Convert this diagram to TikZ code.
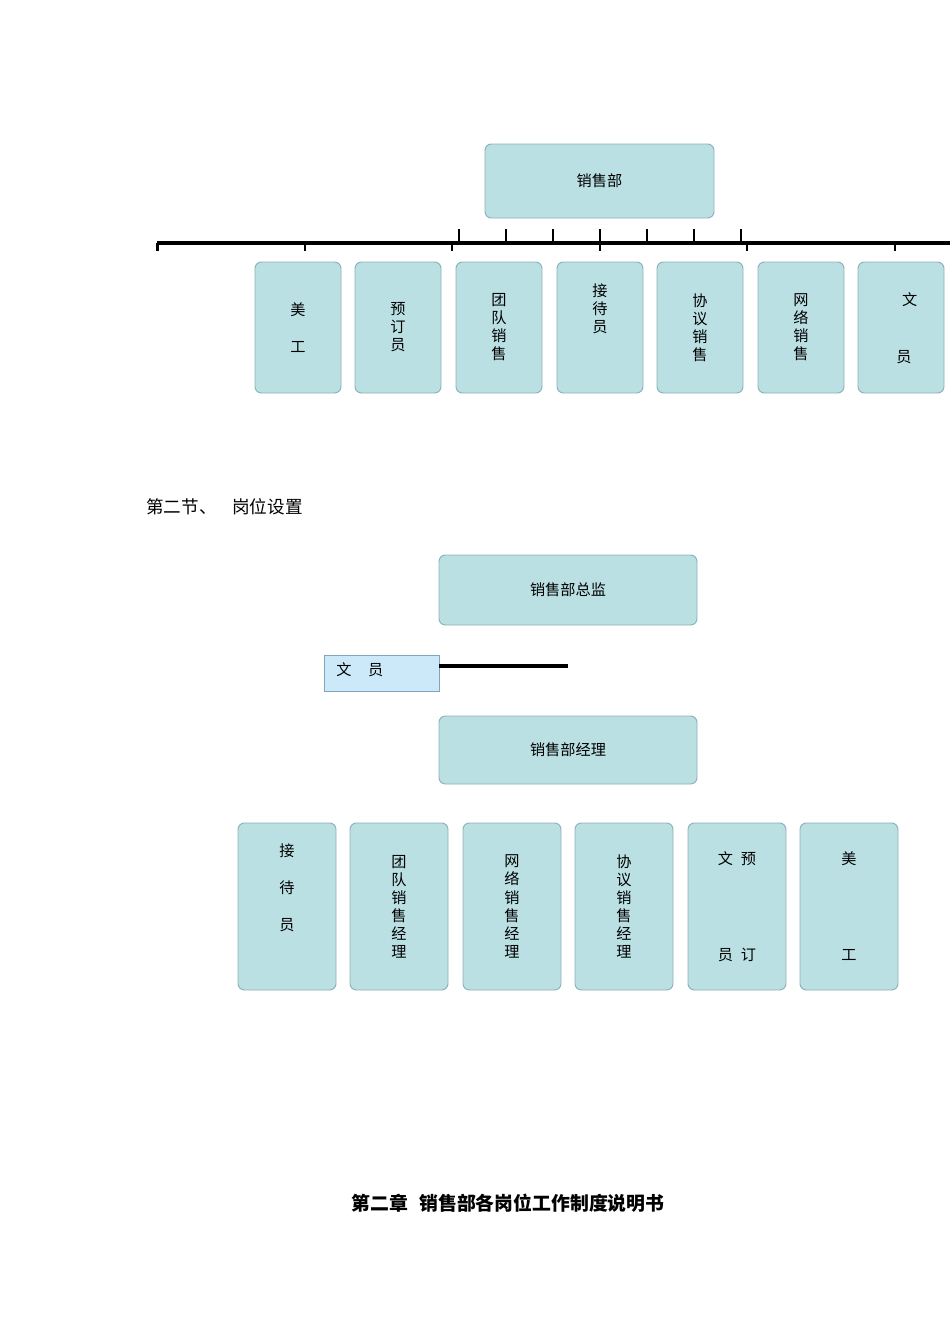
\documentclass[tikz,border=0pt]{standalone}
\usepackage{fontspec}
\setmainfont{Noto Sans CJK SC}
\usepackage{xcolor}
\usetikzlibrary{positioning}
\definecolor{postfill}{RGB}{187,224,227}
\definecolor{postline}{RGB}{140,178,184}
\definecolor{clerkfill}{RGB}{204,233,250}
\definecolor{clerkline}{RGB}{130,165,190}
\tikzset{
	x=0.626pt, y=-0.626pt,
	post/.style 2 args = {
			draw=postline, fill=postfill,
			rounded corners=4pt, line width=0.6pt,
			minimum width=#1*0.626pt, minimum height=#2*0.626pt,
			inner sep=0pt, align=center,
			font=\fontsize{9.5}{11.3}\selectfont,
		},
	clerk/.style = {
			draw=clerkline, fill=clerkfill, line width=0.6pt,
			minimum width=115*0.626pt, minimum height=36*0.626pt,
			inner sep=0pt,
		},
	word/.style = {inner sep=0pt, align=center, font=\fontsize{9.5}{11.3}\selectfont},
	bar/.style = {draw=black, line width=2.2pt},
	tick/.style = {draw=black, line width=1.7pt},
}
\begin{document}
\begin{tikzpicture}
	\useasboundingbox (0,0) rectangle (950,1344);

	% Sales department
	\node[post={229}{74}] (Dept) at (599.5,181) {销售部};

	\node[post={86}{131}] (Art) at (298,327.5) {美\\[12pt]工};
	\node[post={86}{131}] (Booking) at (398,327.5) {预\\订\\员};
	\node[post={86}{131}] (Team) at (499,327.5) {团\\队\\销\\售};
	\node[post={86}{131}] (Reception) at (600,327.5) {};
	\node[word] (Reception text) at (600,309) {接\\待\\员};
	\node[post={86}{131}] (Contract) at (700,327.5) {协\\议\\销\\售};
	\node[post={86}{131}] (Online) at (801,327.5) {网\\络\\销\\售};
	\node[post={86}{131}] (Clerk top) at (901,327.5) {};
	\node[word] (Clerk top text) at (904,328) {\hspace{7pt}文\\[24.4pt]员};

	\coordinate (BarL) at (157,243);
	\coordinate (BarR) at (950,243);
	\draw[bar] (BarL) -- (BarR);

	\coordinate (Up1) at (459,229);
	\coordinate (Up2) at (506,229);
	\coordinate (Up3) at (553,229);
	\coordinate (Up4) at (600,229);
	\coordinate (Up5) at (647,229);
	\coordinate (Up6) at (694,229);
	\coordinate (Up7) at (741,229);
	\draw[tick] (Up1) -- (Up1 |- BarL);
	\draw[tick] (Up2) -- (Up2 |- BarL);
	\draw[tick] (Up3) -- (Up3 |- BarL);
	\draw[tick] (Up4) -- (Up4 |- BarL);
	\draw[tick] (Up5) -- (Up5 |- BarL);
	\draw[tick] (Up6) -- (Up6 |- BarL);
	\draw[tick] (Up7) -- (Up7 |- BarL);

	\coordinate (Down1) at (157.8,251);
	\coordinate (Down2) at (305,251);
	\coordinate (Down3) at (452,251);
	\coordinate (Down4) at (600,251);
	\coordinate (Down5) at (747,251);
	\coordinate (Down6) at (895,251);
	\draw[tick] (Down1 |- BarL) -- (Down1);
	\draw[tick] (Down2 |- BarL) -- (Down2);
	\draw[tick] (Down3 |- BarL) -- (Down3);
	\draw[tick] (Down4 |- BarL) -- (Down4);
	\draw[tick] (Down5 |- BarL) -- (Down5);
	\draw[tick] (Down6 |- BarL) -- (Down6);

	% Post settings
	\node[anchor=west, inner sep=0pt, font=\fontsize{11}{13}\selectfont] (Section)
	at (146,507) {第二节、\hspace{0.9em}岗位设置};

	\node[post={258}{70}] (Director) at (568,590) {销售部总监};
	\node[clerk] (Clerk) at (381.5,673) {};
	\node[word, anchor=west] (Clerk text) at (336,670) {文\hspace{1.1em}员};
	\coordinate (LinkEnd) at (568,666);
	\draw[bar, line width=2.4pt] (Clerk.east |- LinkEnd) -- (LinkEnd);
	\node[post={258}{68}] (Manager) at (568,750) {销售部经理};

	\node[post={98}{167}] (Reception low) at (287,906.5) {};
	\node[word] (Reception low text) at (287,888) {接\\[12pt]待\\[12pt]员};
	\node[post={98}{167}] (Team low) at (399,906.5) {团\\队\\销\\售\\经\\理};
	\node[post={98}{167}] (Online low) at (512,906.5) {网\\络\\销\\售\\经\\理};
	\node[post={98}{167}] (Contract low) at (624,906.5) {协\\议\\销\\售\\经\\理};
	\node[post={98}{167}] (Mixed low) at (737,906.5) {文\hspace{5pt}预\\[48.7pt]员\hspace{5pt}订};
	\node[post={98}{167}] (Art low) at (849,906.5) {美\\[48.7pt]工};

	% Chapter title
	\node[inner sep=0pt, font=\fontsize{11.8}{13}\selectfont\bfseries] (Chapter)
	at (508,1203) {第二章\hspace{0.6em}销售部各岗位工作制度说明书};
\end{tikzpicture}
\end{document}
